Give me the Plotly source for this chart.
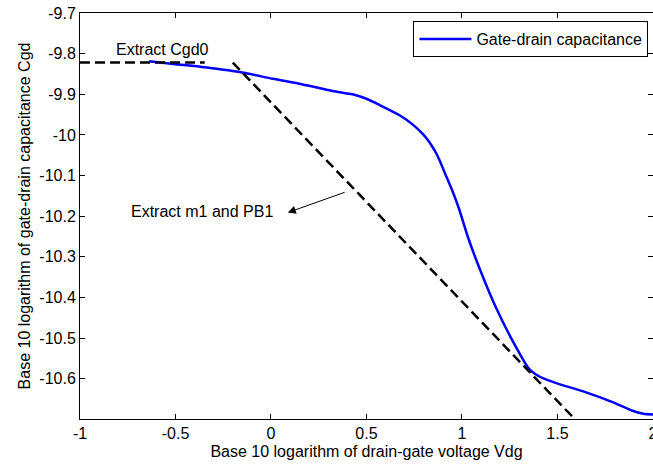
import plotly.graph_objects as go

# ---- data ----
curve_x = [-0.638, -0.5, -0.373, -0.164, 0.01, 0.149, 0.323, 0.427, 0.5, 0.567, 0.671,
           0.741, 0.793, 0.82, 0.845, 0.865, 0.880, 0.915, 0.950, 0.984, 1.03, 1.089, 1.176,
           1.263, 1.350, 1.385, 1.42, 1.489, 1.646, 1.785, 1.889, 1.95, 2.0]
curve_y = [-9.819, -9.826, -9.832, -9.845, -9.862, -9.874, -9.892, -9.900, -9.911, -9.926, -9.951,
           -9.974, -9.997, -10.012, -10.029, -10.045, -10.060, -10.099, -10.138, -10.181, -10.25, -10.325, -10.423,
           -10.505, -10.575, -10.589, -10.598, -10.610, -10.633, -10.657, -10.678, -10.686, -10.688]

cgd0_x = [-1.0, -0.347]
cgd0_y = [-9.822, -9.822]

m1_x = [-0.2, 1.6]
m1_y = [-9.822, -10.704]

x_tickvals = [-1, -0.5, 0, 0.5, 1, 1.5, 2]
x_ticktext = ["-1", "-0.5", "0", "0.5", "1", "1.5", "2"]
y_tickvals = [-9.7, -9.8, -9.9, -10.0, -10.1, -10.2, -10.3, -10.4, -10.5, -10.6]
y_ticktext = ["-9.7", "-9.8", "-9.9", "-10", "-10.1", "-10.2", "-10.3", "-10.4", "-10.5", "-10.6"]

FONT = "Liberation Sans, Arial, Helvetica, sans-serif"
FS = 16

fig = go.Figure()
fig.add_trace(go.Scatter(x=curve_x, y=curve_y, mode="lines",
                         line=dict(color="#0000FF", width=2.5, shape="spline", smoothing=0.6),
                         name="Gate-drain capacitance"))
fig.add_trace(go.Scatter(x=cgd0_x, y=cgd0_y, mode="lines",
                         line=dict(color="black", width=2.5, dash="10px,5px"),
                         showlegend=False))
fig.add_trace(go.Scatter(x=m1_x, y=m1_y, mode="lines",
                         line=dict(color="black", width=2.5, dash="10px,5px"),
                         showlegend=False))

fig.add_annotation(x=-0.569, y=-9.790, text="Extract Cgd0", showarrow=False,
                   font=dict(family=FONT, size=FS, color="black"))
fig.add_annotation(x=-0.36, y=-10.189, text="Extract m1 and PB1", showarrow=False,
                   font=dict(family=FONT, size=FS, color="black"))
fig.add_annotation(x=0.088, y=-10.191, ax=0.393, ay=-10.14, axref="x", ayref="y",
                   text="", showarrow=True, arrowhead=2, arrowwidth=1, arrowsize=1.6,
                   arrowcolor="black")

axis_common = dict(showline=True, linecolor="black", linewidth=1, mirror="ticks",
                   ticks="inside", ticklen=5, tickcolor="black", tickwidth=1,
                   showgrid=False, zeroline=False, automargin=False,
                   tickfont=dict(family=FONT, size=FS, color="black"))

fig.update_layout(
    width=653, height=468,
    margin=dict(l=80, r=0, t=13, b=49),
    paper_bgcolor="white", plot_bgcolor="white",
    font=dict(family=FONT, size=FS, color="black"),
    xaxis=dict(range=[-1, 2.0001], tickvals=x_tickvals, ticktext=x_ticktext,
               ticklabeloverflow="allow",
               title=dict(text="Base 10 logarithm of drain-gate voltage Vdg",
                          font=dict(family=FONT, size=FS, color="black"), standoff=4),
               **axis_common),
    yaxis=dict(range=[-10.699, -9.7], tickvals=y_tickvals, ticktext=y_ticktext,
               title=dict(text="Base 10 logarithm of gate-drain capacitance Cgd",
                          font=dict(family=FONT, size=FS, color="black"), standoff=4),
               **axis_common),
    legend=dict(x=0.992, xanchor="right", y=0.98, yanchor="top",
                bordercolor="black", borderwidth=1, bgcolor="white",
                itemwidth=52, font=dict(family=FONT, size=FS, color="black")),
    showlegend=True,
)

fig.write_html("out.html")
